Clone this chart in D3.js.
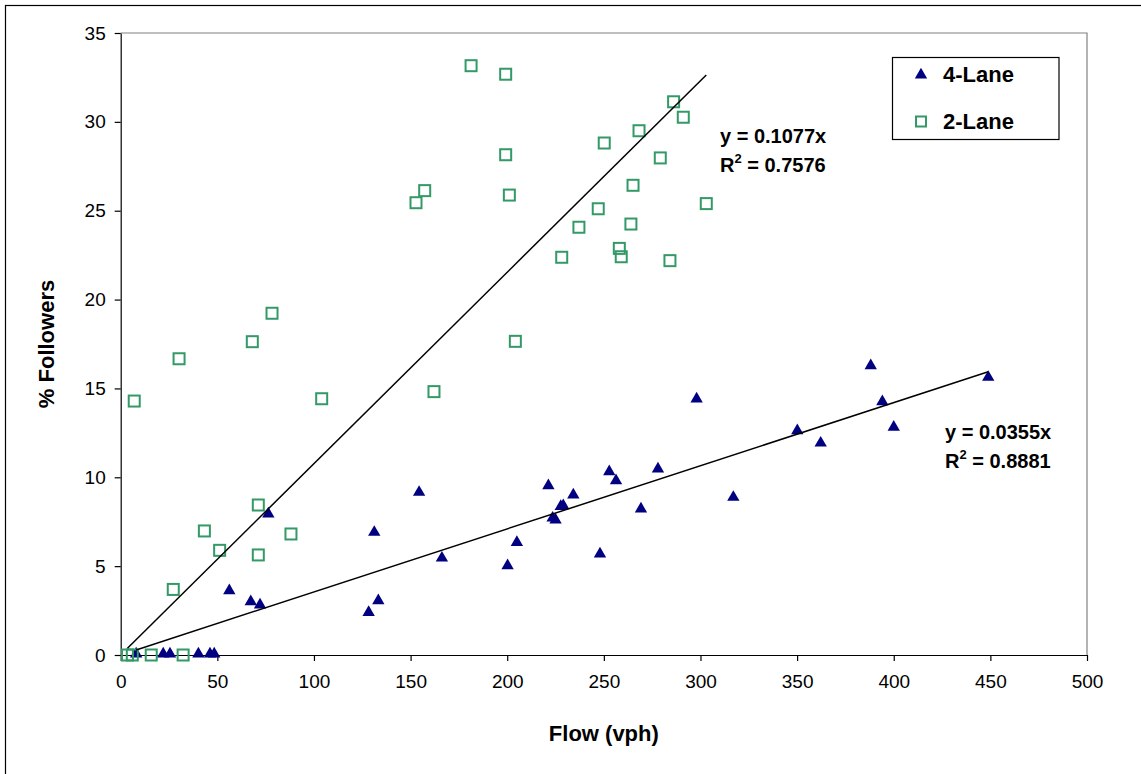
<!DOCTYPE html>
<html>
<head>
<meta charset="utf-8">
<script src="https://cdn.jsdelivr.net/npm/d3@7"></script>
<style>
  body { margin: 0; background: #fff; }
  svg { display: block; font-family: Arial, "Liberation Sans", sans-serif; }
</style>
</head>
<body>
<div class="chart"></div>
<script>
// 4-Lane observations (flow vph, % followers)
var fourLaneFlow = [8, 22, 25.5, 40.2, 46.2, 48.4, 56.2, 67.3, 72.1, 76.4,
  128.3, 133.3, 131.2, 154.4, 166.2, 200.2, 205, 221.3, 223.5, 225, 227.7, 229,
  234.2, 248, 252.8, 256.3, 269.2, 278, 298, 317, 350.1, 362.2, 388.1, 394.1, 400, 448.9];
var fourLaneFollowers = [0, 0, 0, 0, 0, 0, 3.56, 2.95, 2.76, 7.88,
  2.34, 3.0, 6.85, 9.1, 5.4, 4.97, 6.28, 9.47, 7.65, 7.55, 8.31, 8.35,
  8.95, 5.63, 10.26, 9.75, 8.16, 10.41, 14.35, 8.82, 12.57, 11.87, 16.22, 14.2, 12.76, 15.57];

// 2-Lane observations
var twoLaneFlow = [3.5, 6, 15.8, 32.3, 7.0, 27.2, 30.2, 43.3, 51.2, 68.1, 71.2, 71.2,
  78.3, 88.1, 104, 152.8, 157.3, 162.1, 181.3, 199.2, 199.2, 201.1, 204.2,
  228.2, 237.1, 247.1, 250.2, 258, 259, 264, 265.1, 268.2, 279.2, 284.2, 286.1, 291.1, 303];
var twoLaneFollowers = [0, 0, 0, 0, 14.29, 3.69, 16.67, 6.98, 5.89, 17.63, 8.44, 5.63,
  19.23, 6.81, 14.42, 25.45, 26.13, 14.82, 33.16, 32.68, 28.15, 25.88, 17.65,
  22.38, 24.07, 25.11, 28.81, 22.88, 22.41, 24.25, 26.43, 29.5, 27.97, 22.19, 31.13, 30.26, 25.4];

// trendlines through the origin
var fourLaneSlope = 0.0355, fourLaneR2 = "0.8881";
var twoLaneSlope = 0.1077, twoLaneR2 = "0.7576";

var xTicks = [0, 50, 100, 150, 200, 250, 300, 350, 400, 450, 500];
var yTicks = [0, 5, 10, 15, 20, 25, 30, 35];
var seriesNames = ["4-Lane", "2-Lane"];

var w = 1141, h = 774;
var navy = "#000080", green = "#339966";

var svg = d3.select("div.chart").append("svg")
    .attr("width", w).attr("height", h);

// outer chart border (right/bottom run off the picture)
svg.append("rect")
    .attr("x", 5.5).attr("y", 5.5)
    .attr("width", w).attr("height", h)
    .attr("fill", "none").attr("stroke", "#000").attr("stroke-width", 1.2);

var x = d3.scaleLinear().domain([0, 500]).range([120.7, 1087]);
var y = d3.scaleLinear().domain([0, 35]).range([655, 33]);

// plot area frame: grey top/right
svg.append("path")
    .attr("d", `M${x(0)},${y(35)}H${x(500)}V${y(0)}`)
    .attr("fill", "none").attr("stroke", "#808080").attr("stroke-width", 1.2);

var xAxis = svg.append("g")
    .attr("transform", `translate(0,${y(0)})`)
    .call(d3.axisBottom(x).tickValues(xTicks).tickSize(6).tickSizeOuter(0).tickPadding(14));
var yAxis = svg.append("g")
    .attr("transform", `translate(${x(0)},0)`)
    .call(d3.axisLeft(y).tickValues(yTicks).tickSize(6).tickSizeOuter(0).tickPadding(9));

[xAxis, yAxis].forEach(function(g){
  g.selectAll("path,line").attr("stroke", "#000").attr("stroke-width", 1.2);
  g.selectAll("text").attr("font-size", 19).attr("fill", "#000")
    .attr("font-family", 'Arial, "Liberation Sans", sans-serif');
});

// axis titles
svg.append("text")
    .attr("x", (x(0) + x(500)) / 2).attr("y", 741)
    .attr("text-anchor", "middle").attr("font-size", 22).attr("font-weight", "bold")
    .text("Flow (vph)");
svg.append("text")
    .attr("transform", `translate(54,${(y(0) + y(35)) / 2}) rotate(-90)`)
    .attr("text-anchor", "middle").attr("font-size", 22).attr("font-weight", "bold")
    .text("% Followers");

// trendlines
function trend(xs, slope){
  var lo = d3.min(xs), hi = d3.max(xs);
  svg.append("line")
      .attr("x1", x(lo)).attr("y1", y(lo * slope))
      .attr("x2", x(hi)).attr("y2", y(hi * slope))
      .attr("stroke", "#000").attr("stroke-width", 1.5);
}

var tri = d3.symbol().type(d3.symbolTriangle).size(66);

// 4-Lane triangles
svg.append("g").selectAll("path")
    .data(fourLaneFlow)
    .join("path")
    .attr("d", tri)
    .attr("transform", (d, i) => `translate(${x(d)},${y(fourLaneFollowers[i]) - 1})`)
    .attr("fill", navy);

// 2-Lane squares
svg.append("g").selectAll("rect")
    .data(twoLaneFlow)
    .join("rect")
    .attr("x", d => x(d) - 5.5)
    .attr("y", (d, i) => y(twoLaneFollowers[i]) - 5.5)
    .attr("width", 11).attr("height", 11)
    .attr("fill", "none").attr("stroke", green).attr("stroke-width", 2);

trend(twoLaneFlow, twoLaneSlope);
trend(fourLaneFlow, fourLaneSlope);

// trendline labels
function eqLabel(px, py, slope, r2){
  svg.append("text").attr("font-size", 20).attr("font-weight", "bold")
      .attr("x", px).attr("y", py).text("y = " + slope + "x");
  var t2 = svg.append("text").attr("font-size", 20).attr("font-weight", "bold")
      .attr("x", px).attr("y", py + 29);
  t2.append("tspan").text("R");
  t2.append("tspan").attr("font-size", 13).attr("dy", -9).text("2");
  t2.append("tspan").attr("dy", 9).text(" = " + r2);
}
eqLabel(720, 143, twoLaneSlope, twoLaneR2);
eqLabel(945, 439, fourLaneSlope, fourLaneR2);

// legend
var legend = svg.append("g");
legend.append("rect")
    .attr("x", 892.5).attr("y", 57.5).attr("width", 166.5).attr("height", 82)
    .attr("fill", "#fff").attr("stroke", "#000").attr("stroke-width", 1.2);
legend.append("path").attr("d", tri)
    .attr("transform", "translate(921,75)").attr("fill", navy);
legend.append("rect")
    .attr("x", 916).attr("y", 116.5).attr("width", 10).attr("height", 10)
    .attr("fill", "none").attr("stroke", green).attr("stroke-width", 2);
legend.selectAll("text.lg")
    .data(seriesNames)
    .join("text")
    .attr("class", "lg")
    .attr("x", 943).attr("y", (d, i) => 82 + i * 47)
    .attr("font-size", 22).attr("font-weight", "bold")
    .text(d => d);
</script>
</body>
</html>
